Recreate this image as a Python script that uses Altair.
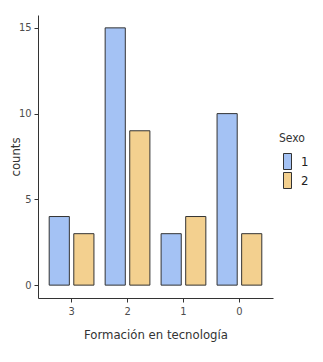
import altair as alt
import pandas as pd

categories = ["3", "2", "1", "0"]
sexo = ["1", "2"]
counts_1 = [4, 15, 3, 10]
counts_2 = [3, 9, 4, 3]
y_ticks = [0, 5, 10, 15]
colors = ["#a4c2f4", "#f3d08f"]

rows = []
for c, a, b in zip(categories, counts_1, counts_2):
    rows.append({"formacion": c, "sexo": sexo[0], "counts": a})
    rows.append({"formacion": c, "sexo": sexo[1], "counts": b})
df = pd.DataFrame(rows)

FONT = "Liberation Sans Narrow, DejaVu Sans Condensed, Liberation Sans, Arial"

chart = alt.Chart(df).mark_bar(stroke="#333333", strokeWidth=1).encode(
    x=alt.X(
        "formacion:N",
        sort=categories,
        scale=alt.Scale(paddingInner=0.2, paddingOuter=0.2),
        axis=alt.Axis(
            title="Formación en tecnología",
            labelAngle=0,
            titlePadding=12,
            titleFontSize=13,
        ),
    ),
    xOffset=alt.XOffset("sexo:N", scale=alt.Scale(paddingInner=0.18, paddingOuter=0)),
    y=alt.Y(
        "counts:Q",
        scale=alt.Scale(domain=[-0.75, 15.75], nice=False, zero=False),
        axis=alt.Axis(
            title="counts",
            values=y_ticks,
            titleX=-23,
            titleBaseline="middle",
            titleFontSize=13,
        ),
    ),
    y2=alt.datum(0),
    color=alt.Color(
        "sexo:N",
        scale=alt.Scale(domain=sexo, range=colors),
        legend=alt.Legend(
            title="Sexo",
            orient="none",
            legendX=241,
            legendY=118,
            symbolType="M-0.5,-1H0.5V1H-0.5Z",
            symbolSize=256,
            symbolStrokeColor="#333333",
            symbolStrokeWidth=1,
            rowPadding=-4,
            labelFontSize=13,
            titleFontSize=12,
            labelFont=FONT,
            titleFont=FONT,
            labelColor="#222222",
            titleColor="#333333",
            titleFontWeight="normal",
            labelOffset=5,
            titlePadding=8,
        ),
    ),
).properties(
    width=235,
    height=283,
    autosize=alt.AutoSizeParams(type="none"),
    padding={"left": 30, "top": 7, "right": 38, "bottom": 50},
).configure_view(
    stroke=None
).configure_axis(
    grid=False,
    domainColor="#333333",
    domainWidth=1,
    tickColor="#333333",
    tickSize=4,
    labelFont=FONT,
    titleFont=FONT,
    labelFontSize=11,
    labelColor="#4d4d4d",
    titleColor="#333333",
    titleFontWeight="normal",
    labelPadding=3,
)

chart.save("out.html", embed_options={"renderer": "svg", "actions": False})
